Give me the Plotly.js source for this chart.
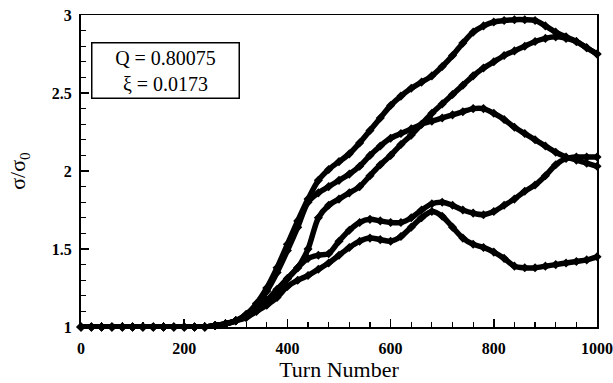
<!DOCTYPE html>
<html>
<head>
<meta charset="utf-8">
<script src="https://cdn.plot.ly/plotly-3.0.1.min.js"></script>
<style>html,body{margin:0;padding:0;background:#fff;}#chart{width:613px;height:383px;}</style>
</head>
<body>
<div id="chart"></div>
<script>
// Turn numbers (x values)
const turns = [0,20,40,60,80,100,120,140,160,180,200,220,240,260,280,300,320,340,360,380,400,420,440,460,480,500,520,540,560,580,600,620,640,660,680,700,720,740,760,780,800,820,840,860,880,900,920,940,960,980,1000];

// sigma/sigma0 series
const flat = [1,1,1,1,1,1,1,1,1,1,1,1,1,1.01,1.02,1.04];
const seriesA = flat.concat([1.08,1.15,1.25,1.38,1.53,1.68,1.82,1.94,2.01,2.06,2.11,2.18,2.26,2.34,2.42,2.48,2.53,2.57,2.61,2.67,2.74,2.82,2.89,2.93,2.955,2.965,2.97,2.97,2.965,2.93,2.89,2.86,2.83,2.79,2.75]);
const seriesB = flat.concat([1.07,1.12,1.17,1.24,1.31,1.38,1.50,1.70,1.78,1.82,1.86,1.90,1.97,2.04,2.10,2.17,2.23,2.30,2.37,2.43,2.49,2.55,2.61,2.66,2.70,2.74,2.77,2.80,2.83,2.85,2.86,2.85,2.83,2.79,2.75]);
const seriesC = flat.concat([1.08,1.14,1.23,1.35,1.49,1.64,1.80,1.86,1.90,1.94,1.98,2.03,2.10,2.16,2.21,2.24,2.27,2.30,2.32,2.34,2.36,2.38,2.40,2.40,2.37,2.33,2.28,2.24,2.20,2.16,2.12,2.09,2.07,2.05,2.03]);
const seriesD = flat.concat([1.07,1.12,1.17,1.24,1.31,1.38,1.44,1.46,1.47,1.55,1.62,1.67,1.69,1.68,1.67,1.67,1.70,1.75,1.79,1.80,1.78,1.75,1.73,1.72,1.74,1.78,1.82,1.87,1.91,1.97,2.04,2.08,2.09,2.09,2.09]);
const seriesE = flat.concat([1.06,1.10,1.14,1.19,1.26,1.30,1.33,1.37,1.41,1.46,1.51,1.55,1.57,1.56,1.55,1.58,1.64,1.70,1.74,1.71,1.64,1.57,1.53,1.51,1.48,1.44,1.39,1.38,1.38,1.39,1.40,1.41,1.42,1.43,1.45]);

const allSeries = [seriesA, seriesB, seriesC, seriesD, seriesE];

const traces = allSeries.map(ys => ({
  x: turns, y: ys, type: 'scatter', mode: 'lines+markers',
  line: {color: '#000', width: 5.5, shape: 'spline', smoothing: 0.8},
  marker: {symbol: 'diamond', size: 7, color: '#000'},
  showlegend: false, hoverinfo: 'skip', cliponaxis: false
}));

const tickFont = {family: 'Liberation Serif, Times New Roman, serif', size: 16, color: '#000', weight: 'bold'};
const titleFont = {family: 'Liberation Serif, Times New Roman, serif', size: 22, color: '#000'};

const layout = {
  width: 613, height: 383,
  margin: {l: 81, r: 16, t: 15, b: 56},
  paper_bgcolor: '#fff', plot_bgcolor: '#fff',
  xaxis: {
    range: [0, 1000], dtick: 200, tick0: 0,
    showgrid: false, zeroline: false,
    showline: true, linecolor: '#000', linewidth: 1.5, mirror: true,
    ticks: 'inside', ticklen: 8, tickwidth: 1.5, tickcolor: '#000',
    minor: {dtick: 40, ticks: 'inside', ticklen: 5, tickwidth: 1.2, tickcolor: '#000', showgrid: false},
    tickfont: tickFont, ticklabelstandoff: 6,
    title: {text: 'Turn Number', font: titleFont, standoff: 2}
  },
  yaxis: {
    range: [1, 3], dtick: 0.5, tick0: 1,
    showgrid: false, zeroline: false,
    showline: true, linecolor: '#000', linewidth: 2, mirror: true,
    ticks: 'inside', ticklen: 8, tickwidth: 1.5, tickcolor: '#000',
    minor: {dtick: 0.1, ticks: 'inside', ticklen: 5, tickwidth: 1.2, tickcolor: '#000', showgrid: false},
    tickfont: tickFont, ticklabelstandoff: 4,
    title: {text: 'σ/σ<sub>0</sub>', font: titleFont, standoff: 20}
  },
  annotations: [{
    xref: 'paper', yref: 'paper', x: 0.019, y: 0.913,
    xanchor: 'left', yanchor: 'top', align: 'center',
    text: 'Q = 0.80075<br>ξ = 0.0173',
    font: {family: 'Liberation Serif, Times New Roman, serif', size: 20, color: '#000'},
    showarrow: false, bgcolor: '#fff', bordercolor: '#000', borderwidth: 1.5, borderpad: 3,
    width: 140
  }]
};

Plotly.newPlot('chart', traces, layout, {staticPlot: true, displayModeBar: false});
</script>
</body>
</html>
